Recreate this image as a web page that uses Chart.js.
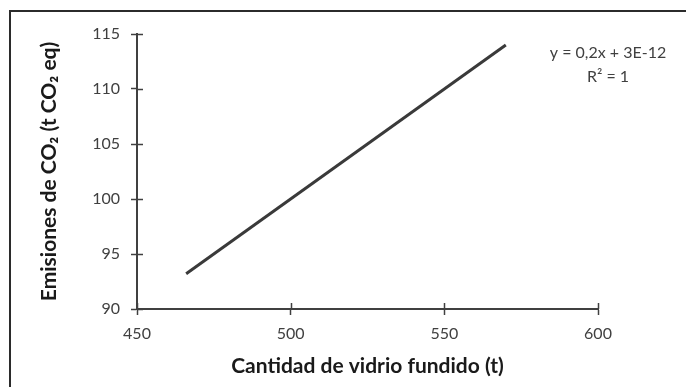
<!DOCTYPE html>
<html>
<head>
<meta charset="utf-8">
<script src="https://cdn.jsdelivr.net/npm/chart.js@4/dist/chart.umd.min.js"></script>
<style>
  html, body { margin: 0; padding: 0; background: #fff; }
  #wrap { position: relative; width: 686px; height: 387px; }
  #frame { position: absolute; left: 9px; top: 10px; right: 0; bottom: 0; border-top: 2px solid #2b2b2b; border-left: 2px solid #2b2b2b; pointer-events: none; }
  canvas { position: absolute; left: 0; top: 0; }
</style>
</head>
<body>
<div id="wrap">
  <canvas id="chart" width="686" height="387"></canvas>
  <div id="frame"></div>
</div>
<script>
// ─── Data ───
const glassMelted = [466, 570];        // t
const co2Emissions = [93.2, 114];      // t CO2 eq
const xTicks = [450, 500, 550, 600];
const yTicks = [90, 95, 100, 105, 110, 115];
const trendLines = ['y = 0,2x + 3E-12', 'R\u00B2 = 1'];

const FONT = 'Lato, "Open Sans", "DejaVu Sans", sans-serif';
const INK = '#404040';

// inner half of the crossing tick marks + equation label
const extras = {
  id: 'extras',
  afterDraw(chart) {
    const { ctx, chartArea, scales: { x, y } } = chart;
    ctx.save();
    ctx.strokeStyle = INK;
    ctx.lineWidth = 1.5;
    ctx.beginPath();
    xTicks.forEach(v => { const px = Math.round(x.getPixelForValue(v)) + 0.5; ctx.moveTo(px, chartArea.bottom); ctx.lineTo(px, chartArea.bottom - 6); });
    yTicks.forEach(v => { const py = Math.round(y.getPixelForValue(v)) + 0.5; ctx.moveTo(chartArea.left, py); ctx.lineTo(chartArea.left + 6, py); });
    ctx.stroke();
    ctx.fillStyle = INK;
    ctx.font = '16px ' + FONT;
    ctx.textAlign = 'center';
    ctx.textBaseline = 'middle';
    trendLines.forEach((t, i) => ctx.fillText(t, 608, 53 + i * 24));
    ctx.restore();
  }
};

new Chart(document.getElementById('chart'), {
  type: 'scatter',
  data: {
    datasets: [{
      data: glassMelted.map((v, i) => ({ x: v, y: co2Emissions[i] })),
      showLine: true,
      borderColor: '#3a3a3a',
      borderWidth: 3,
      pointRadius: 0,
      pointHoverRadius: 0,
    }]
  },
  options: {
    responsive: false,
    animation: false,
    layout: { padding: { left: 0, right: 88, top: 34, bottom: 0 } },
    plugins: { legend: { display: false }, tooltip: { enabled: false } },
    scales: {
      x: {
        type: 'linear', min: 450, max: 600,
        afterBuildTicks: s => { s.ticks = xTicks.map(v => ({ value: v })); },
        afterFit: s => { s.height = 78; },
        border: { display: true, color: INK, width: 2 },
        grid: { drawOnChartArea: false, drawTicks: true, tickLength: 6, tickColor: INK, tickWidth: 1.5 },
        ticks: { color: INK, font: { family: FONT, size: 16 }, padding: 9, maxRotation: 0 },
        title: { display: true, text: 'Cantidad de vidrio fundido (t)', color: '#1a1a1a', font: { family: FONT, size: 21, weight: 'bold' }, padding: { top: 0, bottom: 8 } },
      },
      y: {
        type: 'linear', min: 90, max: 115,
        afterBuildTicks: s => { s.ticks = yTicks.map(v => ({ value: v })); },
        afterFit: s => { s.width = 137; },
        border: { display: true, color: INK, width: 2 },
        grid: { drawOnChartArea: false, drawTicks: true, tickLength: 6, tickColor: INK, tickWidth: 1.5 },
        ticks: { color: INK, font: { family: FONT, size: 16 }, padding: 11 },
        title: { display: true, text: 'Emisiones de CO\u2082 (t CO\u2082 eq)', color: '#1a1a1a', font: { family: FONT, size: 21, weight: 'bold' }, padding: { top: 37, bottom: 0 } },
      }
    }
  },
  plugins: [extras],
});
</script>
</body>
</html>
